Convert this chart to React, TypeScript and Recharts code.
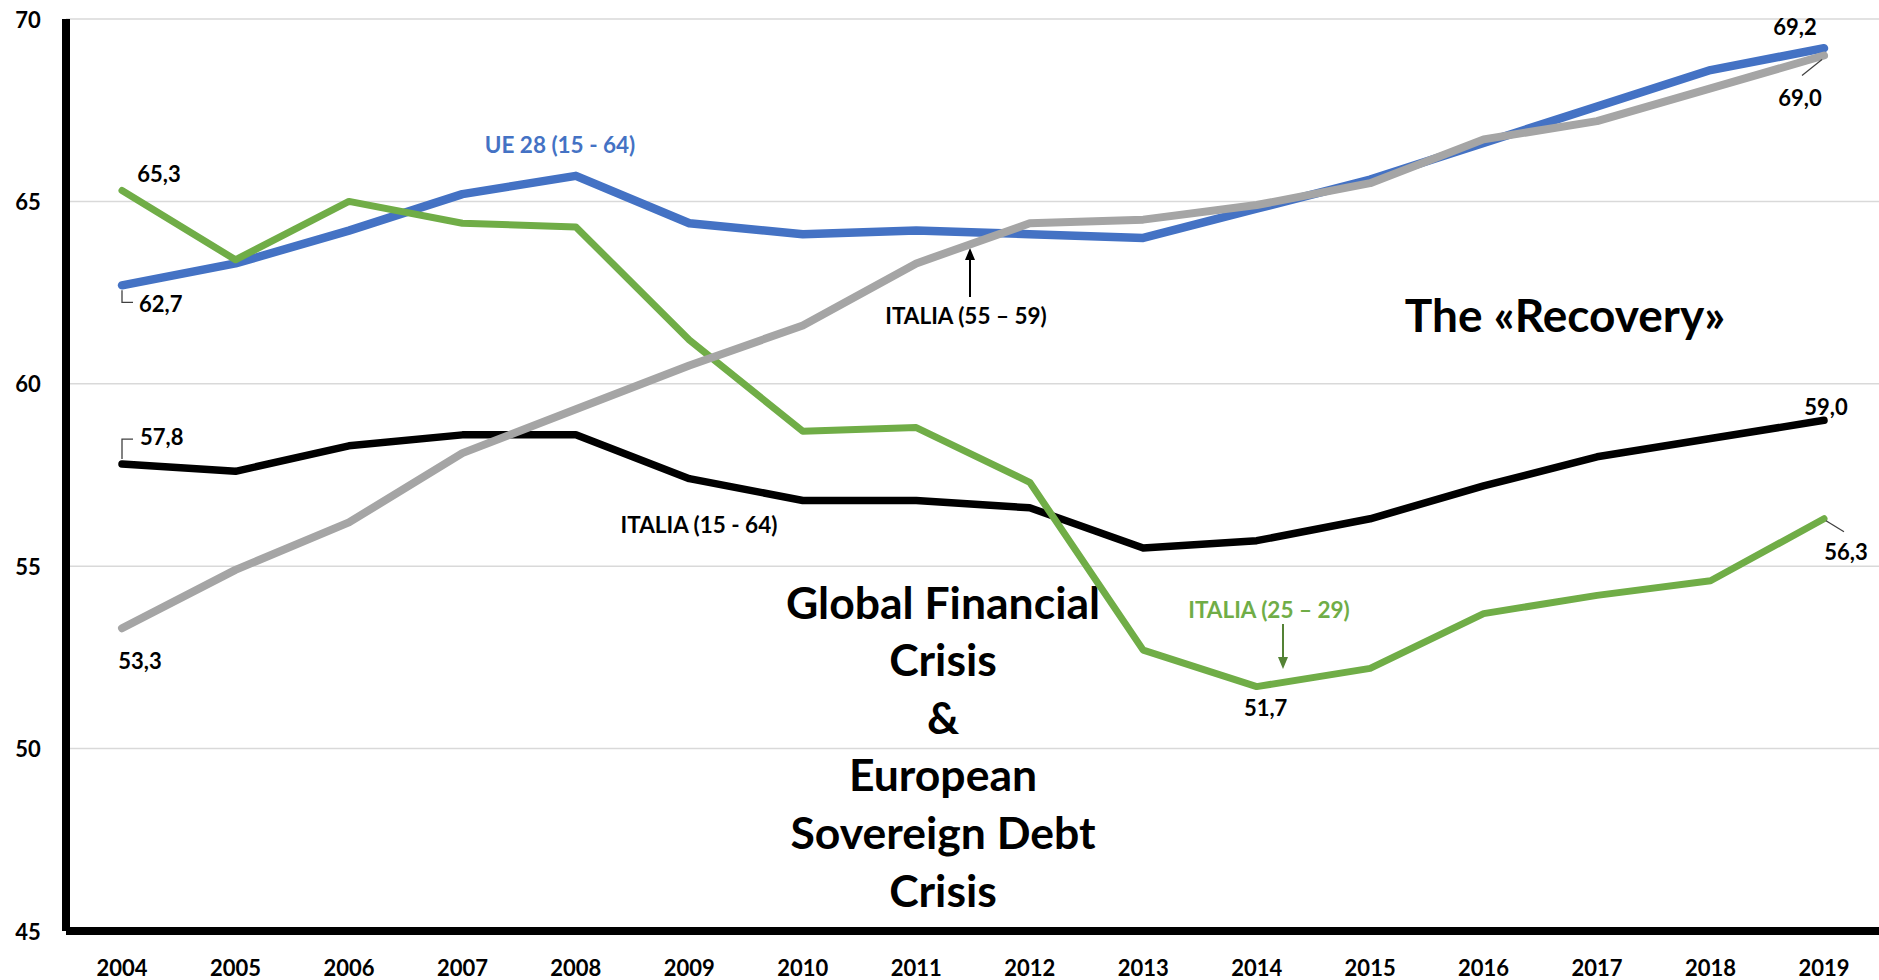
import React from "react";
import { LineChart, Line, XAxis, YAxis, CartesianGrid, Customized } from "recharts";

const years = ["2004", "2005", "2006", "2007", "2008", "2009", "2010", "2011", "2012", "2013", "2014", "2015", "2016", "2017", "2018", "2019"];
const ue28 = [62.7, 63.3, 64.2, 65.2, 65.7, 64.4, 64.1, 64.2, 64.1, 64.0, 64.8, 65.6, 66.6, 67.6, 68.6, 69.2];
const italia1564 = [57.8, 57.6, 58.3, 58.6, 58.6, 57.4, 56.8, 56.8, 56.6, 55.5, 55.7, 56.3, 57.2, 58.0, 58.5, 59.0];
const italia2529 = [65.3, 63.4, 65.0, 64.4, 64.3, 61.2, 58.7, 58.8, 57.3, 52.7, 51.7, 52.2, 53.7, 54.2, 54.6, 56.3];
const italia5559 = [53.3, 54.9, 56.2, 58.1, 59.3, 60.5, 61.6, 63.3, 64.4, 64.5, 64.9, 65.5, 66.7, 67.2, 68.1, 69.0];
const yTicks = [45, 50, 55, 60, 65, 70];

const data = years.map((year, i) => ({
  year,
  ue28: ue28[i],
  it1564: italia1564[i],
  it2529: italia2529[i],
  it5559: italia5559[i],
}));

const FONT = "Lato, 'Open Sans', sans-serif";

type LabelCfg = { dx: number; dy: number; anchor?: "start" | "middle" | "end"; leader?: number[][] };

// which points get a value label, and where it sits relative to the point
const labelsUe: Record<number, LabelCfg> = {
  0: { dx: 17, dy: 18, anchor: "start", leader: [[0, 5], [0, 17], [11, 17]] },
  15: { dx: -29, dy: -22 },
};
const labels1564: Record<number, LabelCfg> = {
  0: { dx: 18, dy: -28, anchor: "start", leader: [[0, -5], [0, -25], [11, -25]] },
  15: { dx: 2, dy: -14 },
};
const labels2529: Record<number, LabelCfg> = {
  0: { dx: 37, dy: -17 },
  10: { dx: 9, dy: 21 },
  15: { dx: 22, dy: 33, leader: [[2, 2], [20, 13]] },
};
const labels5559: Record<number, LabelCfg> = {
  0: { dx: 18, dy: 32 },
  15: { dx: -24, dy: 42, leader: [[-2, 4], [-22, 20]] },
};

const fmt = (v: number) => v.toFixed(1).replace(".", ",");

const makeLabel = (cfg: Record<number, LabelCfg>) => (props: any) => {
  const { x, y, index, value } = props;
  const c = cfg[index];
  if (!c || x == null || y == null) return null;
  return (
    <g key={`lbl-${index}`}>
      {c.leader && (
        <polyline
          points={c.leader.map(([a, b]) => `${x + a},${y + b}`).join(" ")}
          fill="none"
          stroke="#404040"
          strokeWidth={1.3}
        />
      )}
      <text
        x={x + c.dx}
        y={y + c.dy}
        textAnchor={c.anchor || "middle"}
        dominantBaseline="central"
        fontFamily={FONT}
        fontWeight={700}
        fontSize={22}
        fill="#000"
      >
        {fmt(Number(value))}
      </text>
    </g>
  );
};

const YTick = (props: any) => {
  const { y, payload } = props;
  return (
    <text x={28} y={y} textAnchor="middle" dominantBaseline="central" fontFamily={FONT} fontWeight={700} fontSize={22} fill="#000">
      {payload.value}
    </text>
  );
};

const XTick = (props: any) => {
  const { x, payload } = props;
  return (
    <text x={x} y={967} textAnchor="middle" dominantBaseline="central" fontFamily={FONT} fontWeight={700} fontSize={22} fill="#000">
      {payload.value}
    </text>
  );
};

const Annotations = () => {
  const big = ["Global Financial", "Crisis", "&", "European", "Sovereign Debt", "Crisis"];
  return (
    <g fontFamily={FONT} fontWeight={700}>
      <text x={560} y={144} textAnchor="middle" dominantBaseline="central" fontSize={22.5} fill="#4472C4">
        UE 28 (15 - 64)
      </text>
      <text x={699} y={524} textAnchor="middle" dominantBaseline="central" fontSize={22.5} fill="#000">
        ITALIA (15 - 64)
      </text>
      <text x={966} y={315} textAnchor="middle" dominantBaseline="central" fontSize={22.5} fill="#000">
        ITALIA (55 – 59)
      </text>
      <line x1={970} y1={297} x2={970} y2={258} stroke="#000" strokeWidth={2} />
      <polygon points="970,248 965,260 975,260" fill="#000" />
      <text x={1269} y={609} textAnchor="middle" dominantBaseline="central" fontSize={22.5} fill="#70AD47">
        ITALIA (25 – 29)
      </text>
      <line x1={1283} y1={624} x2={1283} y2={659} stroke="#548235" strokeWidth={2} />
      <polygon points="1283,669 1278,657 1288,657" fill="#548235" />
      <text x={1565} y={314} textAnchor="middle" dominantBaseline="central" fontSize={46} fill="#000">
        The «Recovery»
      </text>
      {big.map((t, i) => (
        <text key={i} x={943} y={601 + i * 57.6} textAnchor="middle" dominantBaseline="central" fontSize={44.5} fill="#000">
          {t}
        </text>
      ))}
    </g>
  );
};

export default function App() {
  return (
    <div style={{ position: "absolute", left: 0, top: 0, background: "#fff" }}>
      <LineChart width={1879} height={980} data={data} margin={{ top: 19, right: 0, bottom: 0, left: 0 }}>
        <CartesianGrid vertical={false} stroke="#d9d9d9" strokeWidth={1.5} />
        <XAxis
          dataKey="year"
          padding={{ left: 56, right: 55 }}
          height={49}
          tickLine={false}
          axisLine={{ stroke: "#000", strokeWidth: 8 }}
          tick={<XTick />}
          interval={0}
        />
        <YAxis
          domain={[45, 70]}
          ticks={yTicks}
          width={66}
          tickLine={false}
          axisLine={{ stroke: "#000", strokeWidth: 8 }}
          tick={<YTick />}
          interval={0}
        />
        <Line dataKey="ue28" stroke="#4472C4" strokeWidth={8.5} dot={false} strokeLinejoin="round" strokeLinecap="round" isAnimationActive={false} label={makeLabel(labelsUe)} />
        <Line dataKey="it1564" stroke="#000" strokeWidth={7.5} dot={false} strokeLinejoin="round" strokeLinecap="round" isAnimationActive={false} label={makeLabel(labels1564)} />
        <Line dataKey="it2529" stroke="#70AD47" strokeWidth={7} dot={false} strokeLinejoin="round" strokeLinecap="round" isAnimationActive={false} label={makeLabel(labels2529)} />
        <Line dataKey="it5559" stroke="#A5A5A5" strokeWidth={8} dot={false} strokeLinejoin="round" strokeLinecap="round" isAnimationActive={false} label={makeLabel(labels5559)} />
        <Customized component={Annotations} />
      </LineChart>
    </div>
  );
}
